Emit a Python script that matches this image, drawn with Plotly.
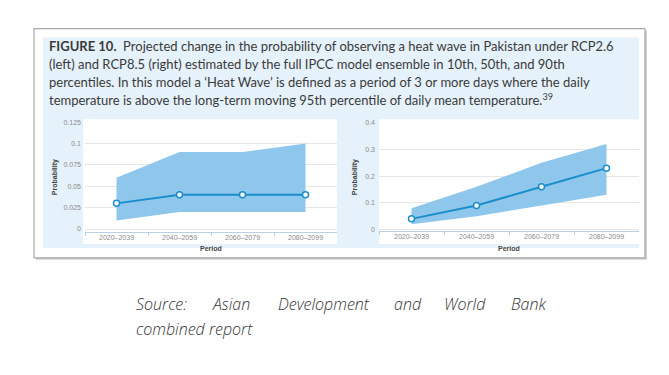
import plotly.graph_objects as go

W, H = 669, 375

periods = ["2020–2039", "2040–2059", "2060–2079", "2080–2099"]

rcp26_p10 = [0.01, 0.02, 0.02, 0.02]
rcp26_p50 = [0.03, 0.04, 0.04, 0.04]
rcp26_p90 = [0.06, 0.09, 0.09, 0.10]

rcp85_p10 = [0.02, 0.05, 0.09, 0.13]
rcp85_p50 = [0.04, 0.09, 0.16, 0.23]
rcp85_p90 = [0.08, 0.16, 0.25, 0.32]

left_ticks = [0, 0.025, 0.05, 0.075, 0.1, 0.125]
left_ticktext = ["0", "0.025", "0.05", "0.075", "0.1", "0.125"]
right_ticks = [0, 0.1, 0.2, 0.3, 0.4]
right_ticktext = ["0", "0.1", "0.2", "0.3", "0.4"]

title_lines = [
    "<b>FIGURE 10.</b>  Projected change in the probability of observing a heat wave in Pakistan under RCP2.6",
    "(left) and RCP8.5 (right) estimated by the full IPCC model ensemble in 10th, 50th, and 90th",
    "percentiles. In this model a ‘Heat Wave’ is defined as a period of 3 or more days where the daily",
    "temperature is above the long-term moving 95th percentile of daily mean temperature.<sup>39</sup>",
]
source_words = ["Source:", "Asian", "Development", "and", "World", "Bank"]
source_line2 = "combined report"

BAND = "#8ec7eb"
LINE = "#1b8dcc"
TEXT = "#3a3a3a"


def px(x):
    return x / W


def py(y):
    return 1 - y / H


fig = go.Figure()

for xa, ya, lo, mid, hi in [("x", "y", rcp26_p10, rcp26_p50, rcp26_p90),
                            ("x2", "y2", rcp85_p10, rcp85_p50, rcp85_p90)]:
    fig.add_trace(go.Scatter(x=periods, y=lo, mode="lines", line=dict(width=0, color=BAND),
                             xaxis=xa, yaxis=ya, showlegend=False, hoverinfo="skip"))
    fig.add_trace(go.Scatter(x=periods, y=hi, mode="lines", line=dict(width=0, color=BAND),
                             fill="tonexty", fillcolor=BAND,
                             xaxis=xa, yaxis=ya, showlegend=False, hoverinfo="skip"))
    fig.add_trace(go.Scatter(x=periods, y=mid, mode="lines+markers",
                             line=dict(width=2, color=LINE),
                             marker=dict(symbol="circle", size=6, color="white",
                                         line=dict(width=1.5, color=LINE)),
                             xaxis=xa, yaxis=ya, showlegend=False))

tick_font = dict(family="Liberation Sans, Arial", size=7, color="#8a8a8a")

xcommon = dict(type="category", range=[-0.5, 3.5], showgrid=False, zeroline=False,
               showline=True, linecolor="#b9cfe2", linewidth=1,
               ticks="outside", ticklen=3, tickcolor="#b9cfe2", tickson="boundaries",
               tickfont=tick_font, tickangle=0, ticklabelstandoff=-2, fixedrange=True)
ycommon = dict(showgrid=True, gridcolor="#e6e6e6", gridwidth=1, zeroline=False,
               showline=False, ticks="", tickfont=tick_font, ticklabelstandoff=3, fixedrange=True)

fig.update_layout(
    width=W, height=H,
    margin=dict(l=0, r=0, t=0, b=0),
    paper_bgcolor="white", plot_bgcolor="white",
    xaxis=dict(domain=[px(85), px(337)], anchor="y", **xcommon),
    yaxis=dict(domain=[py(232), py(120)], anchor="x", range=[-0.0038, 0.125],
               tickvals=left_ticks, ticktext=left_ticktext, **ycommon),
    xaxis2=dict(domain=[px(379), px(639)], anchor="y2", **xcommon),
    yaxis2=dict(domain=[py(231), py(120.7)], anchor="x2", range=[-0.0066, 0.4],
                tickvals=right_ticks, ticktext=right_ticktext, **ycommon),
)

shapes = [
    dict(type="rect", xref="paper", yref="paper", x0=px(36), x1=px(647), y0=py(260), y1=py(27),
         fillcolor="#d0d0d0", line=dict(width=0), layer="below"),
    dict(type="rect", xref="paper", yref="paper", x0=px(34), x1=px(645), y0=py(258), y1=py(25),
         fillcolor="white", line=dict(width=1.2, color="#a8a8a8"), layer="below"),
    dict(type="rect", xref="paper", yref="paper", x0=px(43), x1=px(639), y0=py(248), y1=py(34),
         fillcolor="#e6f2fb", line=dict(width=0), layer="below"),
    dict(type="rect", xref="paper", yref="paper", x0=px(83), x1=px(337), y0=py(244), y1=py(117),
         fillcolor="white", line=dict(width=0), layer="below"),
    dict(type="rect", xref="paper", yref="paper", x0=px(379), x1=px(639), y0=py(244), y1=py(117),
         fillcolor="white", line=dict(width=0), layer="below"),
]
fig.update_layout(shapes=shapes)

ann = []
title_y = [43, 61, 79, 97]
for line, y in zip(title_lines, title_y):
    ann.append(dict(text=line, xref="paper", yref="paper", x=px(47), y=py(y),
                    xanchor="left", yanchor="middle", showarrow=False,
                    font=dict(family="Lato, Noto Sans", size=13, color=TEXT)))

for xc in [55, 355]:
    ann.append(dict(text="<b>Probability</b>", xref="paper", yref="paper", x=px(xc), y=py(176),
                    xanchor="center", yanchor="middle", textangle=-90, showarrow=False,
                    font=dict(family="Liberation Sans, Arial", size=7, color="#444")))
for xc in [211, 509]:
    ann.append(dict(text="<b>Period</b>", xref="paper", yref="paper", x=px(xc), y=py(248),
                    xanchor="center", yanchor="middle", showarrow=False,
                    font=dict(family="Liberation Sans, Arial", size=7, color="#444")))

word_x = [134, 210, 276, 392, 442, 509]
src_font = dict(family="Open Sans", size=16, color="#333333", style="italic", weight=300)
for w, xw in zip(source_words, word_x):
    ann.append(dict(text=w, xref="paper", yref="paper", x=px(xw), y=py(305),
                    xanchor="left", yanchor="middle", showarrow=False, font=src_font))
ann.append(dict(text=source_line2, xref="paper", yref="paper", x=px(134), y=py(330),
                xanchor="left", yanchor="middle", showarrow=False, font=src_font))

fig.update_layout(annotations=ann)

fig.write_html("out.html", config={"displayModeBar": False},
               post_script="document.body.style.margin='0';document.body.style.overflow='hidden';")
